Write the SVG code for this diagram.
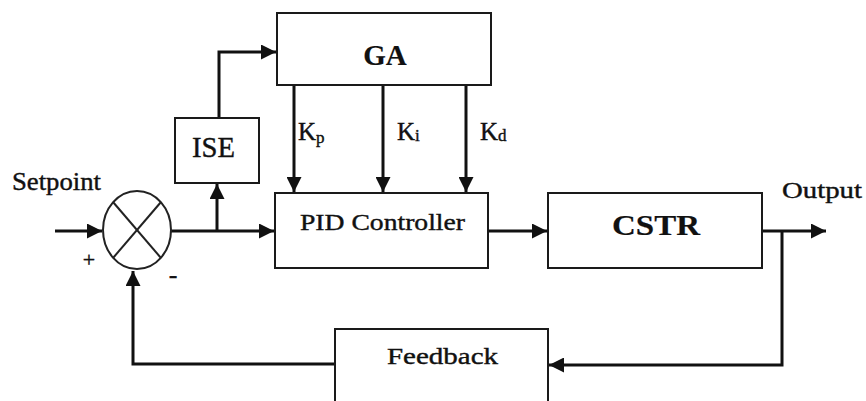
<svg xmlns="http://www.w3.org/2000/svg" width="866" height="401" viewBox="0 0 866 401">
<style>
.box{fill:#fff;stroke:#1a1a1a;stroke-width:2}
.ln{fill:none;stroke:#111;stroke-width:3}
.t{font-family:"Liberation Serif",serif;fill:#111;stroke:#111;stroke-width:0.4}
.b{font-weight:bold;stroke-width:0.2}
</style>
<defs>
<marker id="ar" markerWidth="5" markerHeight="5" refX="5" refY="2.5" orient="auto" markerUnits="strokeWidth">
<path d="M0,0 L5,2.5 L0,5 z" fill="#111"/>
</marker>
</defs>
<rect width="866" height="401" fill="#fff"/>
<g id="connectors">
<line class="ln" x1="55" y1="231" x2="102" y2="231" marker-end="url(#ar)"/>
<line class="ln" x1="171" y1="231" x2="274" y2="231" marker-end="url(#ar)"/>
<line class="ln" x1="217" y1="231" x2="217" y2="184" marker-end="url(#ar)"/>
<polyline class="ln" points="219,118 219,52 276,52" marker-end="url(#ar)"/>
<line class="ln" x1="294" y1="85" x2="294" y2="192" marker-end="url(#ar)"/>
<line class="ln" x1="383" y1="85" x2="383" y2="192" marker-end="url(#ar)"/>
<line class="ln" x1="466" y1="85" x2="466" y2="192" marker-end="url(#ar)"/>
<line class="ln" x1="488" y1="231" x2="547" y2="231" marker-end="url(#ar)"/>
<line class="ln" x1="762" y1="231" x2="826" y2="231" marker-end="url(#ar)"/>
<polyline class="ln" points="782,231 782,365 549,365" marker-end="url(#ar)"/>
<polyline class="ln" points="335,364 133,364 133,271" marker-end="url(#ar)"/>
</g>
<g id="sum">
<ellipse cx="137" cy="230" rx="34" ry="39" fill="#fff" stroke="#222" stroke-width="2"/>
<line x1="113" y1="202" x2="161" y2="258" stroke="#222" stroke-width="2"/>
<line x1="161" y1="202" x2="113" y2="258" stroke="#222" stroke-width="2"/>
<text class="t" x="89" y="267" font-size="22" text-anchor="middle">+</text>
<text class="t" x="173" y="283" font-size="26" text-anchor="middle">-</text>
</g>
<g id="setpoint"><text class="t" x="12" y="190" font-size="26" textLength="89" lengthAdjust="spacingAndGlyphs">Setpoint</text></g>
<g id="output"><text class="t" x="782" y="198" font-size="24" textLength="80" lengthAdjust="spacingAndGlyphs">Output</text></g>
<g id="ise">
<rect class="box" x="175" y="118" width="84" height="65"/>
<text class="t" x="192" y="157" font-size="30" textLength="43" lengthAdjust="spacingAndGlyphs">ISE</text>
</g>
<g id="ga">
<rect class="box" x="277" y="13" width="214" height="72"/>
<text class="t b" x="385" y="65" font-size="29" text-anchor="middle">GA</text>
</g>
<g id="gains">
<text class="t" x="298" y="140" font-size="25">K<tspan font-size="17" dy="3">p</tspan></text>
<text class="t" x="397" y="140" font-size="25">K<tspan font-size="17" dy="1">i</tspan></text>
<text class="t" x="480" y="140" font-size="25">K<tspan font-size="17" dy="1">d</tspan></text>
</g>
<g id="pid">
<rect class="box" x="275" y="193" width="213" height="75"/>
<text class="t" x="300" y="230" font-size="24" textLength="165" lengthAdjust="spacingAndGlyphs">PID Controller</text>
</g>
<g id="cstr">
<rect class="box" x="548" y="193" width="214" height="75"/>
<text class="t b" x="612" y="235" font-size="30" textLength="88" lengthAdjust="spacingAndGlyphs">CSTR</text>
</g>
<g id="feedback">
<rect class="box" x="335" y="329" width="213" height="80"/>
<text class="t" x="387" y="364" font-size="24" textLength="111" lengthAdjust="spacingAndGlyphs">Feedback</text>
</g>
</svg>
